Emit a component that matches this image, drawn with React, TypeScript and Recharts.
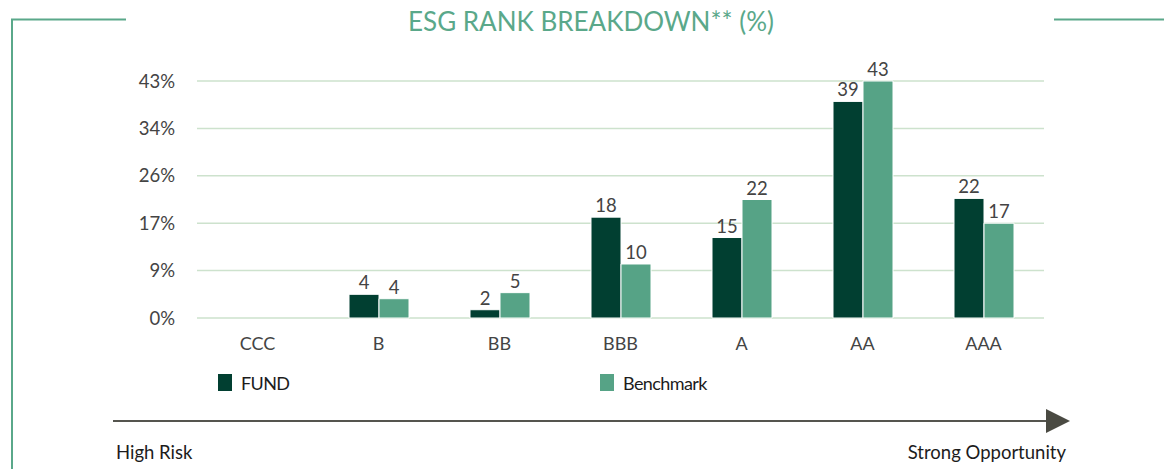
// ── EsgRankChart ──
// ESG rank breakdown: fund vs benchmark, % per rating bucket

import { BarChart, Bar, XAxis, YAxis, CartesianGrid, LabelList } from 'recharts';

const ratings = ['CCC', 'B', 'BB', 'BBB', 'A', 'AA', 'AAA'];
const fundValues = [0, 4.3, 1.5, 18.3, 14.6, 39.3, 21.7];
const benchmarkValues = [0, 3.5, 4.6, 9.8, 21.5, 43, 17.2];
const yTicks = [0, 8.6, 17.2, 25.8, 34.4, 43];

const FUND_COLOR = '#013f31';
const BENCH_COLOR = '#56a386';
const ACCENT = '#5aa88a';
const FONT = 'Lato, "Open Sans", sans-serif';

const data = ratings.map((name, i) => ({
  name,
  fund: fundValues[i],
  benchmark: benchmarkValues[i],
}));

const legendItems = [
  { label: 'FUND', color: FUND_COLOR, left: 218 },
  { label: 'Benchmark', color: BENCH_COLOR, left: 600 },
];

const fmtLabel = (v: number) => (v > 0 ? Math.round(v) : '');

export default function App() {
  return (
    <div style={{ position: 'absolute', left: 0, top: 0, width: 1164, height: 469, background: '#fff', fontFamily: FONT }}>
      <svg width={1164} height={469} style={{ position: 'absolute', left: 0, top: 0 }}>
        {/* frame */}
        <polyline points="12,469 12,19.5 126,19.5" fill="none" stroke={ACCENT} strokeWidth={2} />
        <line x1={1054} y1={19.5} x2={1164} y2={19.5} stroke={ACCENT} strokeWidth={2} />
        <text x={591} y={31} textAnchor="middle" fill={ACCENT} fontSize={26} fontFamily={FONT}>
          ESG RANK BREAKDOWN** (%)
        </text>
        {/* legend */}
        {legendItems.map((it) => (
          <g key={it.label}>
            <rect x={it.left} y={374} width={14} height={17} fill={it.color} />
            <text x={it.left + 23} y={390} fill="#1c1c1c" fontSize={18} letterSpacing={-0.6} fontFamily={FONT}>
              {it.label}
            </text>
          </g>
        ))}
        {/* risk arrow */}
        <line x1={113} y1={421} x2={1048} y2={421} stroke="#55554f" strokeWidth={2} />
        <polygon points="1046,409 1070,421 1046,433" fill="#4a4a42" />
        <text x={116} y={459} fill="#1c1c1c" fontSize={18.5} fontFamily={FONT}>High Risk</text>
        <text x={1066} y={459} textAnchor="end" fill="#1c1c1c" fontSize={18.5} fontFamily={FONT}>
          Strong Opportunity
        </text>
      </svg>
      <div style={{ position: 'absolute', left: 0, top: 0 }}>
        <BarChart
          width={1164}
          height={469}
          data={data}
          margin={{ top: 81, right: 120, bottom: 121, left: 137 }}
          barGap={0}
        >
          <CartesianGrid vertical={false} stroke="#cde2cd" strokeWidth={1.5} />
          <XAxis
            dataKey="name"
            axisLine={false}
            tickLine={false}
            tickSize={0}
            tickMargin={19}
            tick={{ fill: '#444', fontSize: 18, fontFamily: FONT }}
          />
          <YAxis
            width={60}
            domain={[0, 43]}
            ticks={yTicks}
            tickFormatter={(v: number) => `${Math.round(v)}%`}
            axisLine={false}
            tickLine={false}
            tickSize={0}
            tickMargin={22}
            tick={{ fill: '#444', fontSize: 18.5, fontFamily: FONT }}
          />
          <Bar dataKey="fund" name="FUND" fill={FUND_COLOR} stroke="#fff" strokeWidth={1} barSize={30} isAnimationActive={false}>
            <LabelList dataKey="fund" position="top" offset={5} formatter={fmtLabel} fill="#444" fontSize={18.5} fontFamily={FONT} />
          </Bar>
          <Bar dataKey="benchmark" name="Benchmark" fill={BENCH_COLOR} stroke="#fff" strokeWidth={1} barSize={30} isAnimationActive={false}>
            <LabelList dataKey="benchmark" position="top" offset={5} formatter={fmtLabel} fill="#444" fontSize={18.5} fontFamily={FONT} />
          </Bar>
        </BarChart>
      </div>
    </div>
  );
}
